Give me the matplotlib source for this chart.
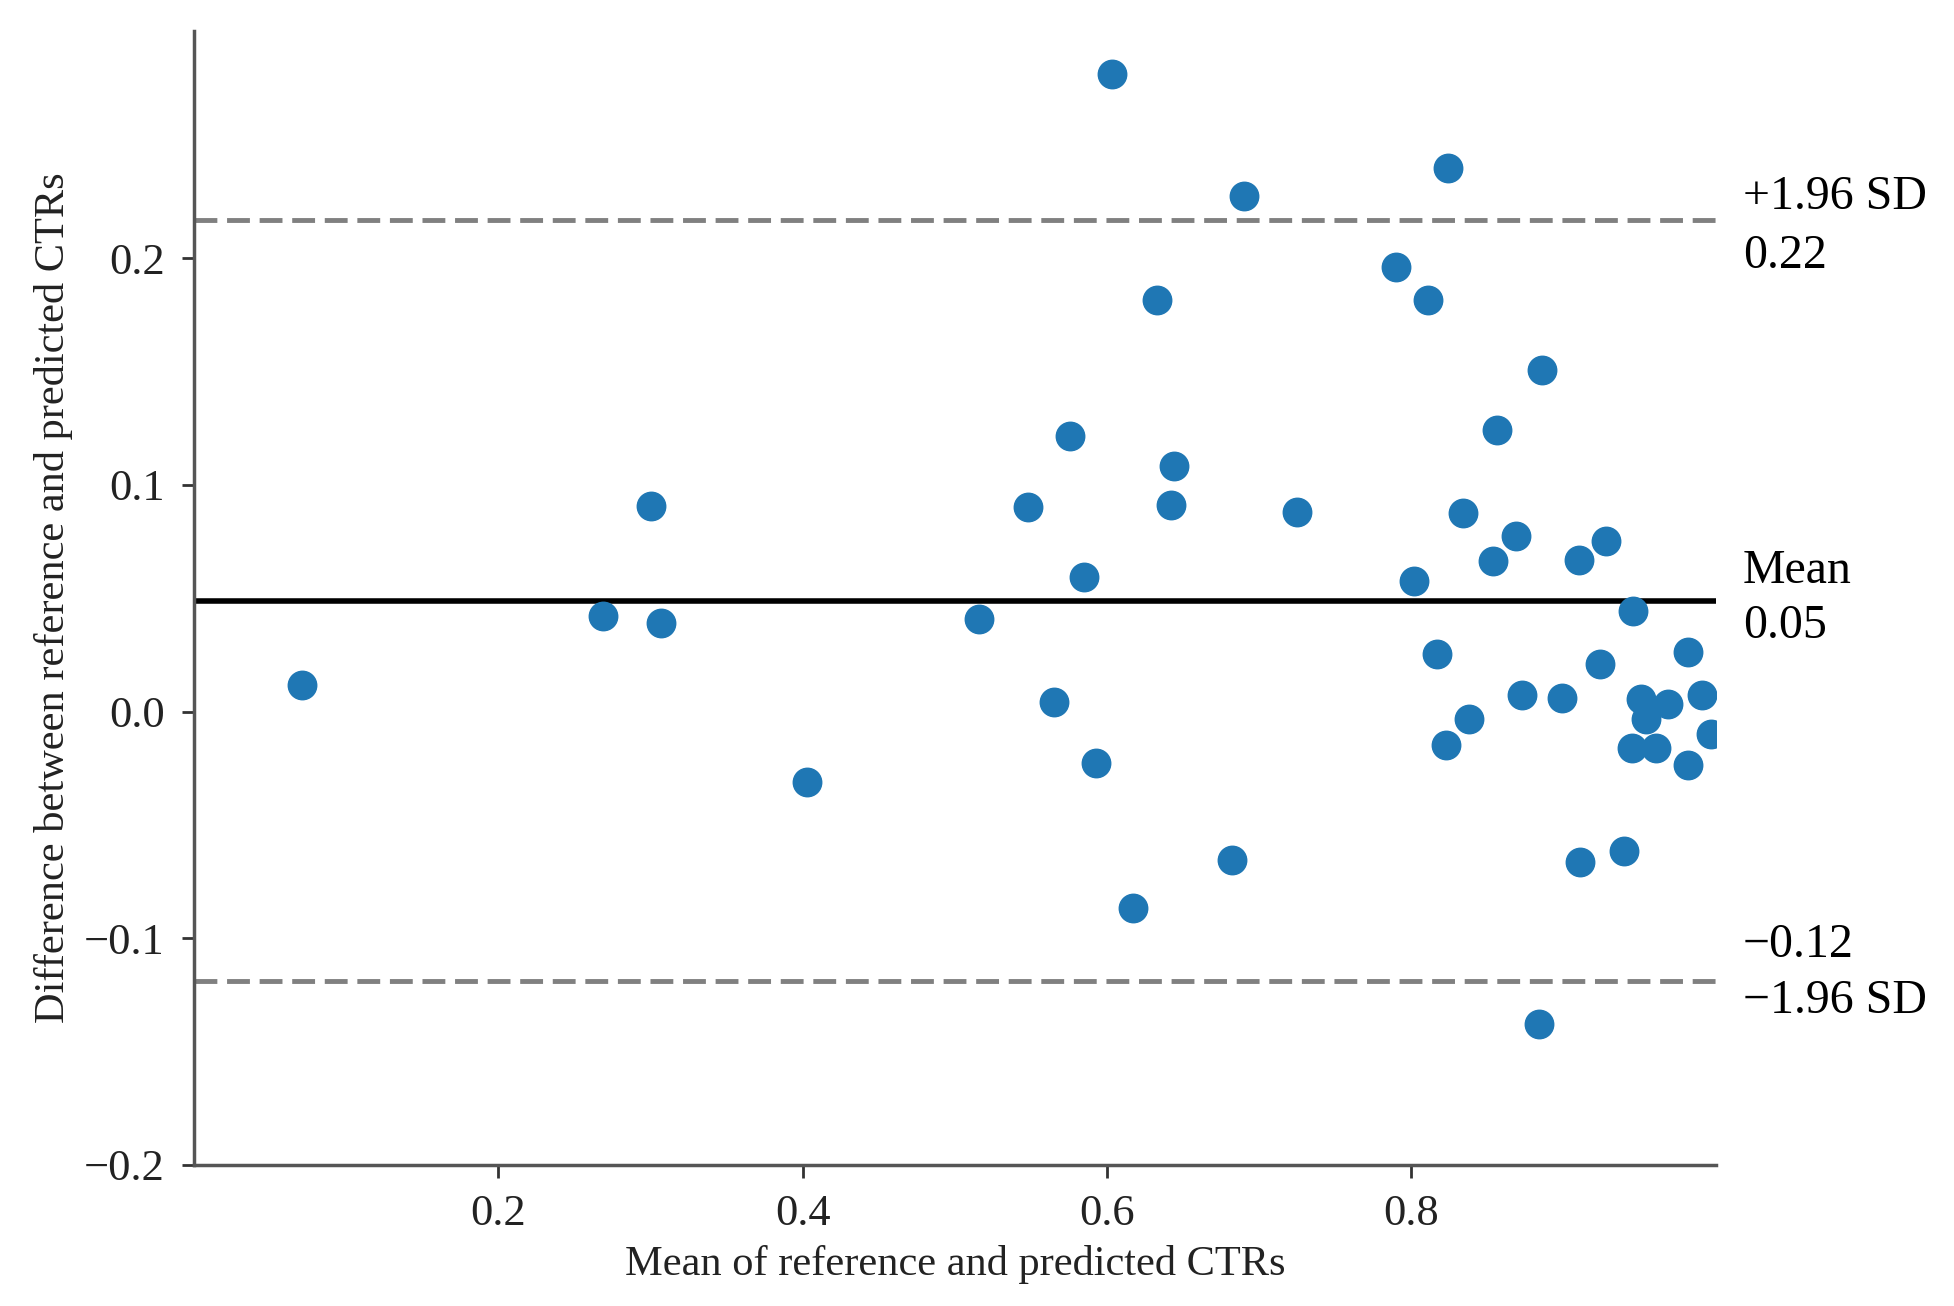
import matplotlib.pyplot as plt
from matplotlib.transforms import blended_transform_factory

# values
mean_ctr = [0.071, 0.269, 0.300, 0.307, 0.403, 0.516, 0.548, 0.565, 0.576, 0.585,
            0.593, 0.603, 0.617, 0.633, 0.642, 0.644, 0.682, 0.690, 0.725, 0.790,
            0.802, 0.811, 0.817, 0.823, 0.824, 0.834, 0.838, 0.854, 0.856, 0.869,
            0.873, 0.884, 0.886, 0.899, 0.910, 0.911, 0.924, 0.928, 0.940, 0.946,
            0.945, 0.951, 0.954, 0.961, 0.969, 0.982, 0.982, 0.991, 0.997]
diff_ctr = [0.0115, 0.0423, 0.0907, 0.0390, -0.0313, 0.0407, 0.0901, 0.0044, 0.1214, 0.0593,
            -0.0225, 0.2813, -0.0868, 0.1813, 0.0912, 0.1082, -0.0654, 0.2275, 0.0879, 0.1962,
            0.0577, 0.1813, 0.0253, -0.0148, 0.2396, 0.0874, -0.0033, 0.0665, 0.1242, 0.0775,
            0.0071, -0.1379, 0.1505, 0.0060, 0.0670, -0.0665, 0.0209, 0.0753, -0.0615, 0.0445,
            -0.0159, 0.0055, -0.0033, -0.0159, 0.0033, 0.0264, -0.0236, 0.0071, -0.0099]

mean_diff = 0.0489
upper_loa = 0.217
lower_loa = -0.1187

plt.rcParams["font.family"] = ["Liberation Serif", "DejaVu Serif"]
plt.rcParams["font.size"] = 32

fig, ax = plt.subplots(figsize=(19.54, 13.06), dpi=100)
fig.subplots_adjust(left=0.0993, right=0.878, top=0.976, bottom=0.108)

ax.scatter(mean_ctr, diff_ctr, s=420, color="#1f77b4", zorder=3)
ax.axhline(mean_diff, color="black", lw=4, zorder=2)
ax.axhline(upper_loa, color="gray", lw=3.5, ls=(0, (4.7, 2.0)), zorder=2)
ax.axhline(lower_loa, color="gray", lw=3.5, ls=(0, (4.7, 2.0)), zorder=2)

ax.set_xlim(0.0, 1.0)
ax.set_ylim(-0.2, 0.3)
ax.set_xticks([0.2, 0.4, 0.6, 0.8])
ax.set_yticks([-0.2, -0.1, 0.0, 0.1, 0.2])

ax.spines["top"].set_visible(False)
ax.spines["right"].set_visible(False)
for side in ["left", "bottom"]:
    ax.spines[side].set_linewidth(2.5)
    ax.spines[side].set_color("#555555")
ax.tick_params(width=2, length=9, color="#333333", labelcolor="#222222", pad=12)

ax.set_xlabel("Mean of reference and predicted CTRs", color="#222222", fontsize=30.5, labelpad=8)
ax.set_ylabel("Difference between reference and predicted CTRs", color="#222222", fontsize=30.5, labelpad=8)

# limits of agreement labels, outside the right edge of the axes
trans = blended_transform_factory(ax.transAxes, ax.transData)
labels = [
    ("+1.96 SD", upper_loa, 16.5),
    ("%.2f" % upper_loa, upper_loa, -26),
    ("Mean", mean_diff, 21),
    ("%.2f" % mean_diff, mean_diff, -18.5),
    ("%.2f" % lower_loa, lower_loa, 26),
    ("-1.96 SD", lower_loa, -14.5),
]
for txt, yv, dy in labels:
    ax.annotate(txt.replace("-", "\u2212"), xy=(1.018, yv), xycoords=trans,
                xytext=(0, dy), textcoords="offset points",
                va="center", ha="left", fontsize=34.5, annotation_clip=False)

plt.savefig("out.png", dpi=100)
plt.close()
